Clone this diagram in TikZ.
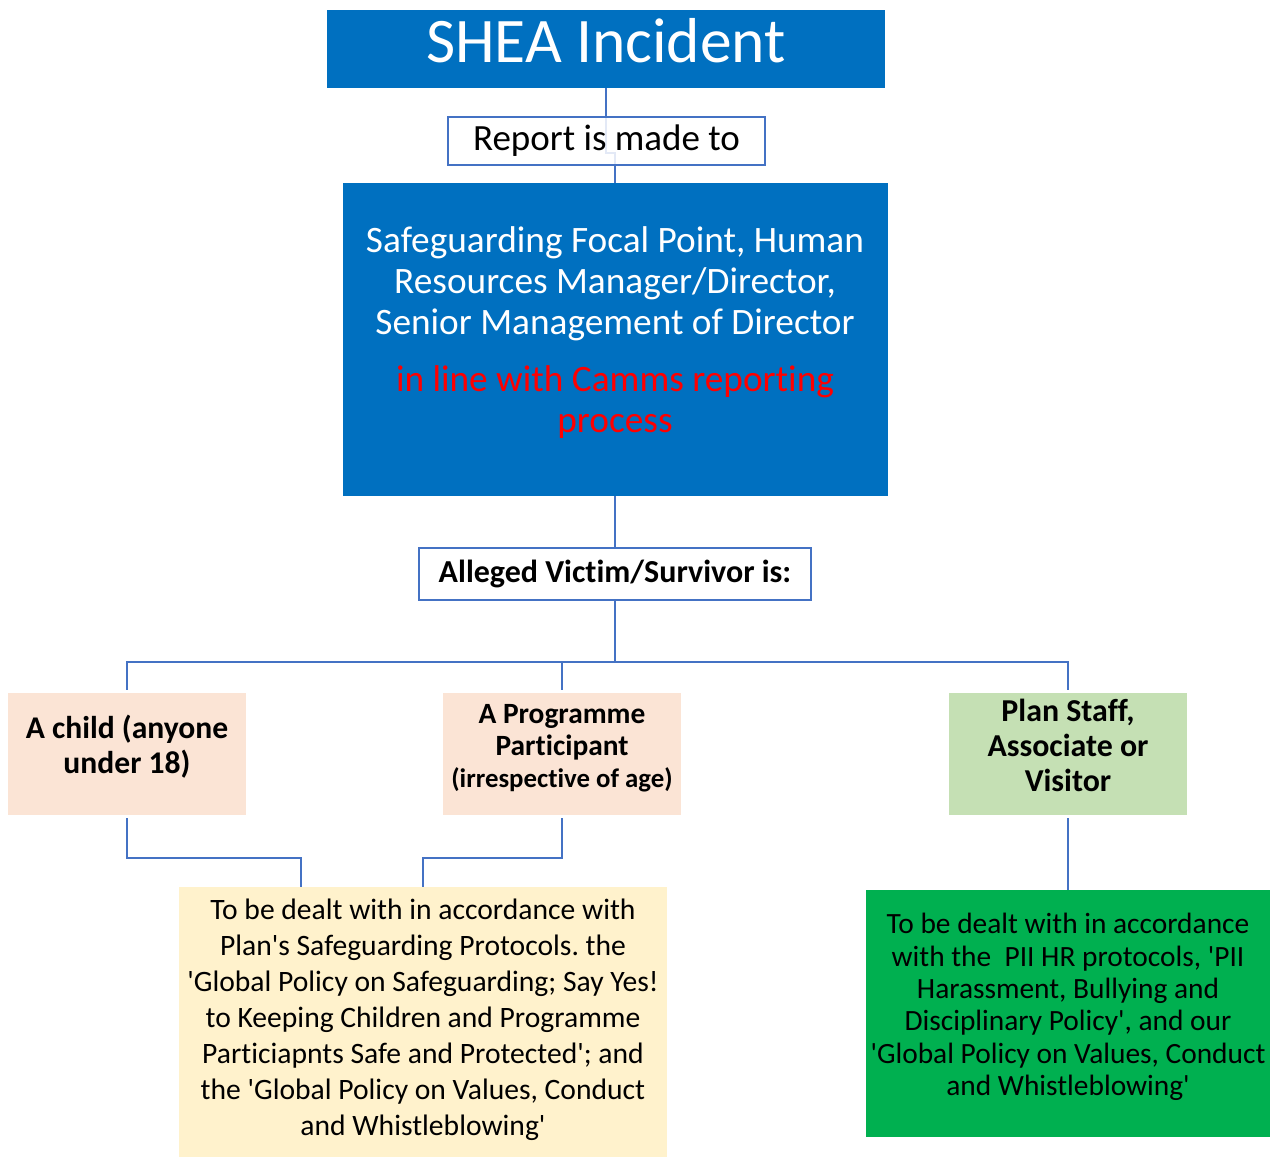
\documentclass[tikz,border=0pt]{standalone}
\usepackage{fontspec}
\setmainfont{Carlito}[Ligatures=NoCommon]
\usepackage{tikz}
\usetikzlibrary{positioning, backgrounds, calc}
\definecolor{headblue}{RGB}{0,112,192}
\definecolor{linkblue}{RGB}{68,114,196}
\definecolor{peach}{RGB}{251,228,213}
\definecolor{sage}{RGB}{197,224,180}
\definecolor{cream}{RGB}{255,242,204}
\definecolor{staffgreen}{RGB}{0,176,80}
\newcommand{\sq}{\textquotesingle}
\frenchspacing

\begin{document}
\begin{tikzpicture}[
    x=1pt, y=-1pt,
    headbox/.style={fill=headblue, text=white, inner sep=0pt, align=center},
    tagbox/.style={draw=linkblue, line width=2pt, fill=white, fill opacity=0.85, text opacity=1, inner sep=0pt, align=center},
    whobox/.style={inner sep=0pt, minimum width=238pt, minimum height=122pt},
    actbox/.style={inner sep=0pt},
    boxtext/.style={inner sep=0pt, align=center},
    link/.style={draw=linkblue, line width=2.8pt}
]
    \useasboundingbox (0,0) rectangle (1276,1158);

    % Top boxes
    \node[headbox, minimum width=558pt, minimum height=78pt, text depth=18pt,
          font=\fontsize{63.5}{76}\selectfont] (shea) at (606,49) {SHEA Incident};
    \node[tagbox, minimum width=317pt, minimum height=48pt,
          font=\fontsize{37}{44}\selectfont] (report) at (606.5,141) {Report is made to};
    \node[headbox, minimum width=545pt, minimum height=313pt] (focal) at (615,339.5) {};
    \node[boxtext, text=white, font=\fontsize{37.3}{41}\selectfont] (focaltext) at (615,333)
        {Safeguarding Focal Point, Human\\Resources Manager/Director,\\Senior Management of Director\\[16pt]
         \textcolor{red}{in line with Camms reporting}\\\textcolor{red}{process}};
    \node[tagbox, minimum width=392pt, minimum height=52pt,
          font=\bfseries\fontsize{32}{38}\selectfont] (alleged) at (615,574) {Alleged Victim/Survivor is:};

    % Who the victim is
    \node[whobox, fill=peach] (child) at (127,754) {};
    \node[whobox, fill=peach] (prog) at (562,754) {};
    \node[whobox, fill=sage] (staff) at (1068,754) {};
    \node[boxtext, font=\bfseries\fontsize{31.6}{35}\selectfont] (childtext) at (127,747)
        {A child (anyone\\under 18)};
    \node[boxtext, font=\bfseries\fontsize{29.4}{32}\selectfont] (progtext) at (562,748)
        {A Programme\\Participant\\{\fontsize{26.8}{31}\selectfont(irrespective of age)}};
    \node[boxtext, font=\bfseries\fontsize{31.9}{35}\selectfont] (stafftext) at (1068,745)
        {Plan Staff,\\Associate or\\Visitor};

    % How it is dealt with
    \node[actbox, fill=cream, minimum width=488pt, minimum height=270pt] (care) at (423,1022) {};
    \node[actbox, fill=staffgreen, minimum width=404pt, minimum height=247pt] (hr) at (1068,1013.5) {};
    \node[boxtext, font=\fontsize{29.6}{36}\selectfont] (caretext) at (423,1019.5)
        {To be dealt with in accordance with\\Plan\sq s Safeguarding Protocols. the\\
         \sq Global Policy on Safeguarding; Say Yes!\\to Keeping Children and Programme\\
         Particiapnts Safe and Protected\sq; and\\the \sq Global Policy on Values, Conduct\\
         and Whistleblowing\sq};
    \node[boxtext, font=\fontsize{29.4}{32.3}\selectfont] (hrtext) at (1068,1007)
        {To be dealt with in accordance\\with the\ \ PII HR protocols, \sq PII\\
         Harassment, Bullying and\\Disciplinary Policy\sq, and our\\
         \sq Global Policy on Values, Conduct\\and Whistleblowing\sq};

    % Connectors
    \coordinate (jog) at (0,153);
    \coordinate (bus) at (615,662);
    \coordinate (kinkL) at (301,858);
    \coordinate (kinkR) at (423,858);
    \begin{scope}[on background layer]
        \draw[link] (shea.south) |- (jog -| focal.north) -- (focal.north);
        \draw[link] (focal.south) -- (alleged.north);
        \draw[link] (alleged.south) -- (bus);
        \draw[link, shorten >=3pt] (bus) -| (child.north);
        \draw[link, shorten >=3pt] (bus) -| (staff.north);
        \draw[link, shorten >=3pt] (prog.north |- bus) -- (prog.north);
        \draw[link, shorten <=3pt] (child.south) |- (kinkL) -- (kinkL |- care.north);
        \draw[link, shorten <=3pt] (prog.south) |- (kinkR) -- (kinkR |- care.north);
        \draw[link, shorten <=3pt] (staff.south) -- (hr.north);
    \end{scope}
\end{tikzpicture}
\end{document}
